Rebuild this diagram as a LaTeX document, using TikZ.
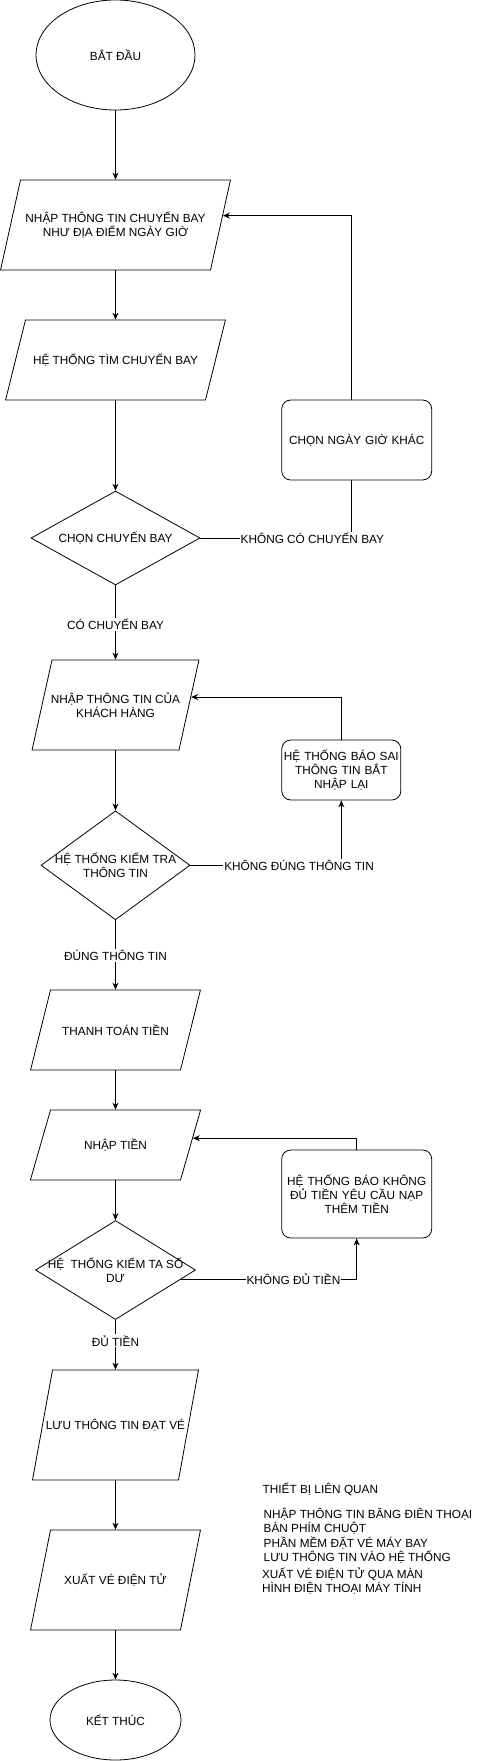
\documentclass[tikz,border=0pt]{standalone}
\usepackage{fontspec}
\setmainfont{Liberation Sans}
\usetikzlibrary{shapes.geometric, arrows.meta, positioning}

\begin{document}
\begin{tikzpicture}[
    x=1pt, y=-1pt, line width=0.8pt,
    font=\fontsize{11.8}{14.3}\selectfont,
    every label/.style={align=center, inner sep=0pt},
    terminal/.style 2 args={draw, ellipse, minimum width=#1, minimum height=#2, inner sep=1pt},
    io/.style n args={4}{draw, trapezium, trapezium left angle=#1, trapezium right angle=#2,
        inner xsep=#3, inner ysep=#4},
    decision/.style 2 args={draw, diamond, minimum width=#1, minimum height=#2, inner sep=0pt},
    process/.style n args={3}{draw, rounded corners=9pt, minimum width=#1, minimum height=#2,
        text width=#3, align=center, inner sep=0pt},
    lbl/.style={fill=white, inner sep=1pt},
    note/.style={anchor=west, align=left, inner sep=0pt},
    arrow/.style={-{Stealth[length=7pt, width=6pt]}}
]
    \useasboundingbox (0,0) rectangle (492,1761);

    % main column
    \node[terminal={159}{110}] (start) at (115.5,55) {BẮT ĐẦU};
    \node[io={77.5}{102.5}{95}{45}, label={[name=flightin-t]center:NHẬP THÔNG TIN CHUYẾN BAY\\NHƯ ĐỊA ĐIỂM NGÀY GIỜ}] (flightin) at (115.5,225) {};
    \node[io={76}{104}{90}{40}, label={[name=search-t]center:HỆ THỐNG TÌM CHUYẾN BAY}] (search) at (115.5,360) {};
    \node[decision={169}{94}, label={[name=pick-t]center:CHỌN CHUYẾN BAY}] (pick) at (115.5,538) {};
    \node[io={77.5}{102.5}{63.5}{45}, label={[name=custin-t]center:NHẬP THÔNG TIN CỦA\\KHÁCH HÀNG}] (custin) at (115.5,705) {};
    \node[decision={149}{109}, label={[name=check-t]center:HỆ THỐNG KIỂM TRA\\THÔNG TIN}] (check) at (115.5,865.3) {};
    \node[io={76}{104}{65}{40}, label={[name=pay-t]center:THANH TOÁN TIỀN}] (pay) at (115.5,1030) {};
    \node[io={74}{106}{65}{35}, label={[name=money-t]center:NHẬP TIỀN}] (money) at (115.5,1145) {};
    \node[decision={160}{99}, label={[name=balance-t]center:HỆ\ \ THỐNG KIỂM TA SỐ\\DƯ}] (balance) at (115.5,1270) {};
    \node[io={79.7}{100.3}{63}{55}, label={[name=save-t]center:LƯU THÔNG TIN ĐẠT VÉ}] (save) at (115.5,1425) {};
    \node[io={78.7}{101.3}{65}{50}, label={[name=ticket-t]center:XUẤT VÉ ĐIỆN TỬ}] (ticket) at (115.5,1580) {};
    \node[terminal={131}{80}] (stop) at (115.5,1720) {KẾT THÚC};

    % side boxes
    \node[process={150}{80}{146}] (newdate) at (356.7,440) {CHỌN NGÀY GIỜ KHÁC};
    \node[process={119}{60}{117}] (wrong) at (341.3,770) {HỆ THỐNG BÁO SAI\\THÔNG TIN BẮT\\NHẬP LẠI};
    \node[process={150}{88}{146}] (lack) at (356.7,1194) {HỆ THỐNG BÁO KHÔNG\\ĐỦ TIỀN YÊU CẦU NẠP\\THÊM TIỀN};

    % notes
    \node[note] (devices) at (262.3,1489.3) {THIẾT BỊ LIÊN QUAN};
    \node[note] (devlist) at (263.3,1535.7) {NHẬP THÔNG TIN BĂNG ĐIÊN THOẠI\\BÀN PHÍM CHUỘT\\PHẦN MỀM ĐẶT VÉ MÁY BAY\\LƯU THÔNG TIN VÀO HỆ THỐNG};
    \node[note] (output) at (261.7,1581.3) {XUẤT VÉ ĐIỆN TỬ QUA MÀN\\HÌNH ĐIỆN THOẠI MÁY TÍNH};

    \draw[arrow] (start) -- (flightin);
    \draw[arrow] (flightin) -- (search);
    \draw[arrow] (search) -- (pick);
    \draw[arrow] (pick) -- node[lbl, pos=0.53] (yes1) {CÓ CHUYẾN BAY} (custin);
    \draw (pick) -| node[lbl, pos=0.37] (no1) {KHÔNG CÓ CHUYẾN BAY} ([xshift=-5pt]newdate.south);
    \draw[arrow] ([xshift=-5pt]newdate.north) |- (flightin.5);

    \draw[arrow] (custin) -- (check);
    \draw[arrow] (check) -| node[lbl, pos=0.36] (no2) {KHÔNG ĐÚNG THÔNG TIN} (wrong);
    \draw[arrow] (wrong) |- (custin.6);
    \draw[arrow] (check) -- node[lbl, pos=0.51] (yes2) {ĐÚNG THÔNG TIN} (pay);

    \draw[arrow] (pay) -- (money);
    \draw[arrow] (money) -- (balance);
    \draw[arrow] (balance.-8) -| node[lbl, pos=0.32] (no3) {KHÔNG ĐỦ TIỀN} (lack);
    \draw[arrow] (lack) |- (money.5);
    \draw[arrow] (balance) -- node[lbl, pos=0.42] (yes3) {ĐỦ TIỀN} (save);

    \draw[arrow] (save) -- (ticket);
    \draw[arrow] (ticket) -- (stop);
\end{tikzpicture}
\end{document}
